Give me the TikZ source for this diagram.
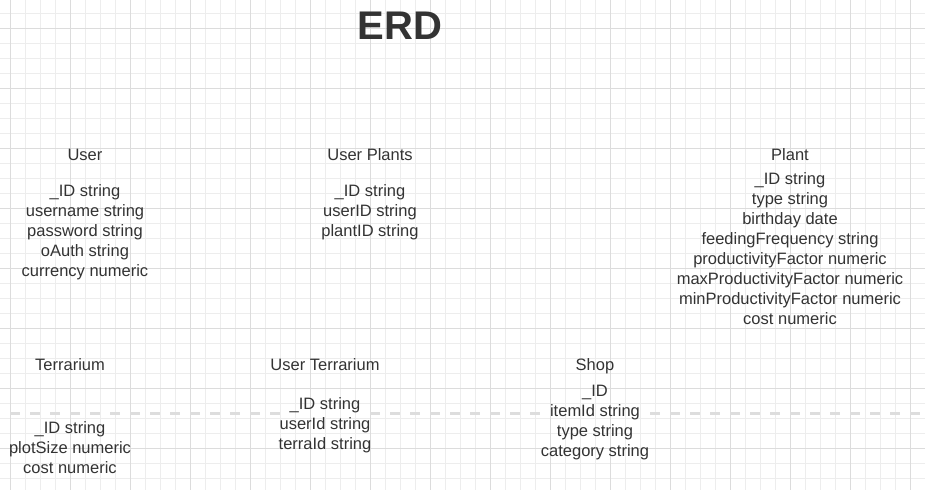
\documentclass[tikz,border=0pt]{standalone}
\usepackage{fontspec}
\setmainfont{Liberation Sans}
\definecolor{txt}{HTML}{333333}
\definecolor{gridminor}{HTML}{EDEDED}
\definecolor{gridmajor}{HTML}{DCDCDC}
\definecolor{dashc}{HTML}{DDDDDD}
\begin{document}
\begin{tikzpicture}[x=1pt,y=-1pt,
  lbl/.style={font=\fontsize{16.5}{20}\selectfont, text=txt, inner sep=0pt, anchor=base},
  attrs/.style={font=\fontsize{16.5}{20}\selectfont, text=txt, inner sep=0pt, anchor=north, align=center},
  minorline/.style={draw=gridminor, line width=1pt},
  majorline/.style={draw=gridmajor, line width=1pt},
  sepline/.style={draw=dashc, line width=3pt, dash pattern=on 10pt off 10pt},
]
\fill[white] (0,0) rectangle (925,490);
\useasboundingbox (0,0) rectangle (925,490);
% grid
\foreach \x in {10,25,...,925} \draw[minorline] (\x,0) -- (\x,490);
\foreach \y in {13,28,...,490} \draw[minorline] (0,\y) -- (925,\y);
\foreach \x in {10,70,...,925} \draw[majorline] (\x,0) -- (\x,490);
\foreach \y in {28,88,...,490} \draw[majorline] (0,\y) -- (925,\y);
% dashed separator
\draw[sepline] (10,413) -- (280,413);
\draw[sepline] (370,413) -- (540,413);
\draw[sepline] (650,413) -- (920,413);
% title
\node[font=\bfseries\fontsize{40}{48}\selectfont, text=txt, inner sep=0pt, anchor=base] (title) at (400,39) {ERD};
% User
\node[lbl] (userT) at (85,160) {User};
\node[attrs] (userA) at (85,182) {\strut\_ID string\\username string\\password string\\oAuth string\\currency numeric};
% User Plants
\node[lbl] (uplT) at (370,160) {User Plants};
\node[attrs] (uplA) at (370,182) {\strut\_ID string\\userID string\\plantID string};
% Plant
\node[lbl] (plantT) at (790,160) {Plant};
\node[attrs] (plantA) at (790,170) {\strut\_ID string\\type string\\birthday date\\feedingFrequency string\\productivityFactor numeric\\maxProductivityFactor numeric\\minProductivityFactor numeric\\cost numeric};
% Terrarium
\node[lbl] (terT) at (70,370) {Terrarium};
\node[attrs] (terA) at (70,419) {\strut\_ID string\\plotSize numeric\\cost numeric};
% User Terrarium
\node[lbl] (uterT) at (325,370) {User Terrarium};
\node[attrs] (uterA) at (325,395) {\strut\_ID string\\userId string\\terraId string};
% Shop
\node[lbl] (shopT) at (595,370) {Shop};
\node[attrs] (shopA) at (595,382) {\strut\_ID\\itemId string\\type string\\category string};
\end{tikzpicture}
\end{document}
